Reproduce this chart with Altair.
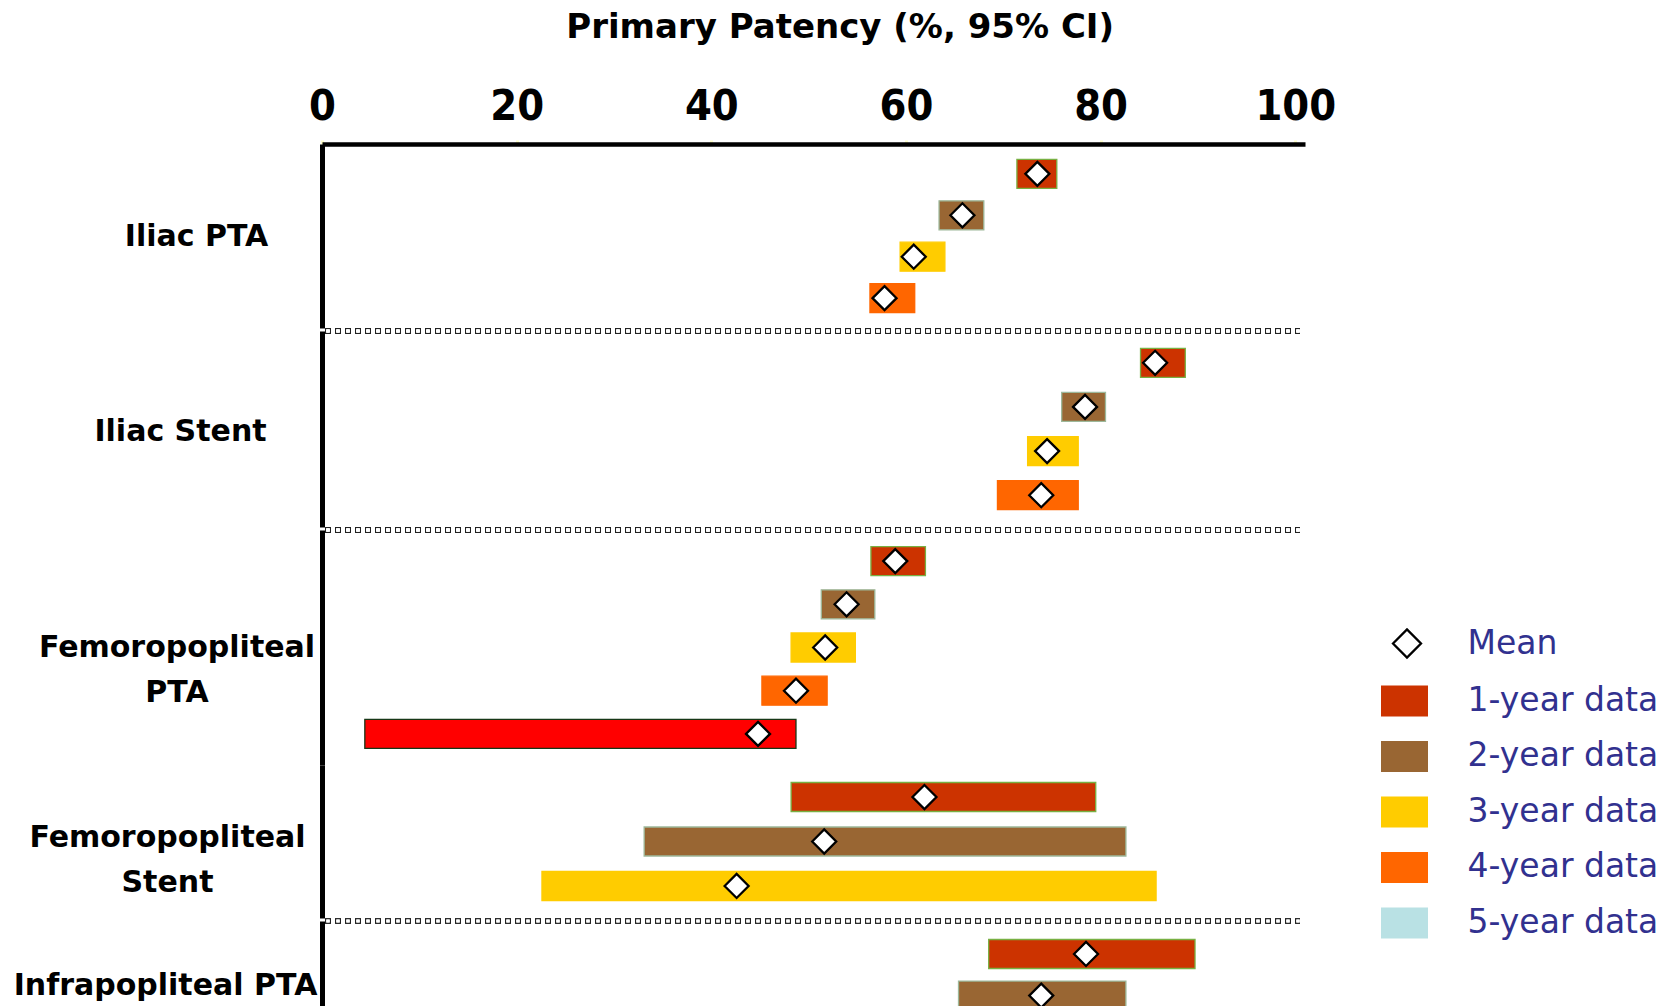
import altair as alt
import pandas as pd

# ---- data -------------------------------------------------------------
GROUPS = [
    "Iliac PTA",
    "Iliac Stent",
    "Femoropopliteal PTA",
    "Femoropopliteal Stent",
    "Infrapopliteal PTA",
]
GROUP_LABEL_LINES = [
    ["Iliac PTA"],
    ["Iliac Stent"],
    ["Femoropopliteal", "PTA"],
    ["Femoropopliteal", "Stent"],
    ["Infrapopliteal PTA"],
]

SERIES = [
    "1-year data",
    "2-year data",
    "3-year data",
    "4-year data",
    "5-year data",
    "Single-study data",
]
LEGEND_SERIES = SERIES[:5]

ROW_GROUP = (
    ["Iliac PTA"] * 4
    + ["Iliac Stent"] * 4
    + ["Femoropopliteal PTA"] * 5
    + ["Femoropopliteal Stent"] * 3
    + ["Infrapopliteal PTA"] * 2
)
ROW_SERIES = [
    "1-year data", "2-year data", "3-year data", "4-year data",
    "1-year data", "2-year data", "3-year data", "4-year data",
    "1-year data", "2-year data", "3-year data", "4-year data", "Single-study data",
    "1-year data", "2-year data", "3-year data",
    "1-year data", "2-year data",
]
CI_LOW = [
    71.4, 63.4, 59.4, 56.3,
    84.1, 76.0, 72.5, 69.4,
    56.4, 51.3, 48.2, 45.2, 4.4,
    48.2, 33.1, 22.6,
    68.5, 65.4,
]
CI_HIGH = [
    75.5, 68.0, 64.0, 60.9,
    88.7, 80.5, 77.7, 77.7,
    62.0, 56.8, 54.8, 51.9, 48.7,
    79.5, 82.6, 85.7,
    89.7, 82.6,
]
MEAN = [
    73.5, 65.8, 60.8, 57.8,
    85.6, 78.4, 74.5, 73.9,
    58.9, 53.9, 51.7, 48.7, 44.8,
    61.9, 51.6, 42.6,
    78.5, 73.9,
]
TICK_VALUES = [0, 20, 40, 60, 80, 100]

df = pd.DataFrame(
    {
        "group": ROW_GROUP,
        "series": ROW_SERIES,
        "low": CI_LOW,
        "high": CI_HIGH,
        "mean": MEAN,
        "stat": ["Mean"] * len(MEAN),
    }
)

# ---- styling ----------------------------------------------------------
FILL_COLORS = ["#CC3300", "#996633", "#FFCC00", "#FF6600", "#B9E1E4", "#FF0000"]
EDGE_COLORS = ["#78B043", "#9DB89A", "#FFCC00", "#FF6600", "#2E5A2E", "#173717"]
LEGEND_TEXT = "#31318F"
LABEL_FONT = "DejaVu Sans"
TICK_FONT = "Liberation Sans Narrow, DejaVu Sans Condensed, sans-serif"

PLOT_W = 983
PANEL_H = [184, 196, 235, 153, 94]
# band padding per group panel: (inner, outer, align)
BAND_PAD = [(0, 0.22, 0.5)] * 4 + [(0.067, 0.163, 1.0)]
LABEL_X = [-126, -142, -145.5, -155, -157]
LABEL_Y = [92.5, 100, 117.7, 72.7, 64]
DIVIDER_ABOVE = [False, True, True, False, True]
X_DOMAIN = [0, 101]
DIVIDER_PX = (3, 978)

x_scale = alt.Scale(domain=X_DOMAIN, nice=False, zero=False)
color_scale = alt.Scale(domain=SERIES, range=FILL_COLORS)
stroke_scale = alt.Scale(domain=SERIES, range=EDGE_COLORS)
mean_fill_scale = alt.Scale(domain=["Mean"], range=["white"])

top_axis = alt.Axis(
    orient="top",
    values=TICK_VALUES,
    title=None,
    labelFont=TICK_FONT,
    labelFontSize=43,
    labelFontWeight="bold",
    labelColor="black",
    labelBaseline="alphabetic",
    labelPadding=21,
    labelFlush=False,
    labelOverlap=False,
    tickSize=4,
    tickWidth=3,
    tickColor="#FFFFCC",
    domainColor="black",
    domainWidth=4.5,
    grid=False,
)

color_legend = alt.Legend(
    title=None,
    orient="none",
    legendX=1059,
    legendY=533.4,
    values=LEGEND_SERIES,
    symbolType="M-1,-0.66H1V0.66H-1Z",
    symbolSize=2209,
    symbolStrokeWidth=0,
    symbolOpacity=1,
    labelFont=LABEL_FONT,
    labelFontSize=33,
    labelColor=LEGEND_TEXT,
    labelOffset=39.5,
    labelLimit=400,
    rowPadding=14.5,
    padding=0,
)

mean_legend = alt.Legend(
    title=None,
    orient="none",
    legendX=1068.5,
    legendY=483,
    symbolType="diamond",
    symbolSize=784,
    symbolStrokeColor="black",
    symbolStrokeWidth=2.3,
    symbolOpacity=1,
    labelFont=LABEL_FONT,
    labelFontSize=33,
    labelColor=LEGEND_TEXT,
    labelOffset=44,
    padding=0,
)


def group_axis(i):
    return alt.Axis(
        labels=False,
        ticks=False,
        grid=False,
        domainColor="black",
        domainWidth=5,
        title=GROUP_LABEL_LINES[i],
        titleAngle=0,
        titleAlign="center",
        titleBaseline="middle",
        titleX=LABEL_X[i],
        titleY=LABEL_Y[i],
        titleFont=LABEL_FONT,
        titleFontSize=30,
        titleFontWeight="bold",
        titleColor="black",
        titleLineHeight=45,
    )


def panel(i, group):
    data = df[df["group"] == group]
    inner, outer, align = BAND_PAD[i]
    y_enc = alt.Y(
        "series:N",
        sort=None,
        scale=alt.Scale(paddingInner=inner, paddingOuter=outer, align=align),
        axis=group_axis(i),
    )
    base = alt.Chart(data)
    bars = base.mark_bar(size=29, strokeWidth=1.3, clip=True).encode(
        x=alt.X("low:Q", scale=x_scale, axis=top_axis if i == 0 else None),
        x2="high:Q",
        y=y_enc,
        color=alt.Color("series:N", scale=color_scale, legend=color_legend),
        stroke=alt.Stroke("series:N", scale=stroke_scale, legend=None),
    )
    means = base.mark_point(
        shape="diamond",
        filled=True,
        stroke="black",
        strokeWidth=2.3,
        size=576,
        opacity=1,
        clip=True,
    ).encode(
        x=alt.X("mean:Q", scale=x_scale),
        y=alt.Y("series:N", sort=None),
        fill=alt.Fill("stat:N", scale=mean_fill_scale, legend=mean_legend),
    )
    layers = [bars, means]
    if DIVIDER_ABOVE[i]:
        # dotted separator along the top edge of the group panel
        outline = base.mark_rule(
            color="#222222", strokeWidth=5.5, strokeDash=[6, 4]
        ).encode(
            x=alt.value(DIVIDER_PX[0]), x2=alt.value(DIVIDER_PX[1]), y=alt.value(0)
        )
        inner_rule = base.mark_rule(
            color="white", strokeWidth=3, strokeDash=[0, 1.3, 3.4, 5.3]
        ).encode(
            x=alt.value(DIVIDER_PX[0]), x2=alt.value(DIVIDER_PX[1]), y=alt.value(0)
        )
        layers += [outline, inner_rule]
    return alt.layer(*layers).properties(width=PLOT_W, height=PANEL_H[i])


chart = (
    alt.vconcat(*[panel(i, g) for i, g in enumerate(GROUPS)], spacing=0)
    .properties(
        title=alt.TitleParams(
            "Primary Patency (%, 95% CI)",
            anchor="start",
            align="center",
            dx=827,
            offset=39.8,
            font=LABEL_FONT,
            fontSize=34,
            fontWeight="bold",
            color="black",
        ),
        padding={"left": 13, "top": 11, "right": 0, "bottom": 0},
    )
    .configure(background="white")
    .configure_view(stroke=None)
)

chart.save("out.html", embed_options={"renderer": "svg", "actions": False})
